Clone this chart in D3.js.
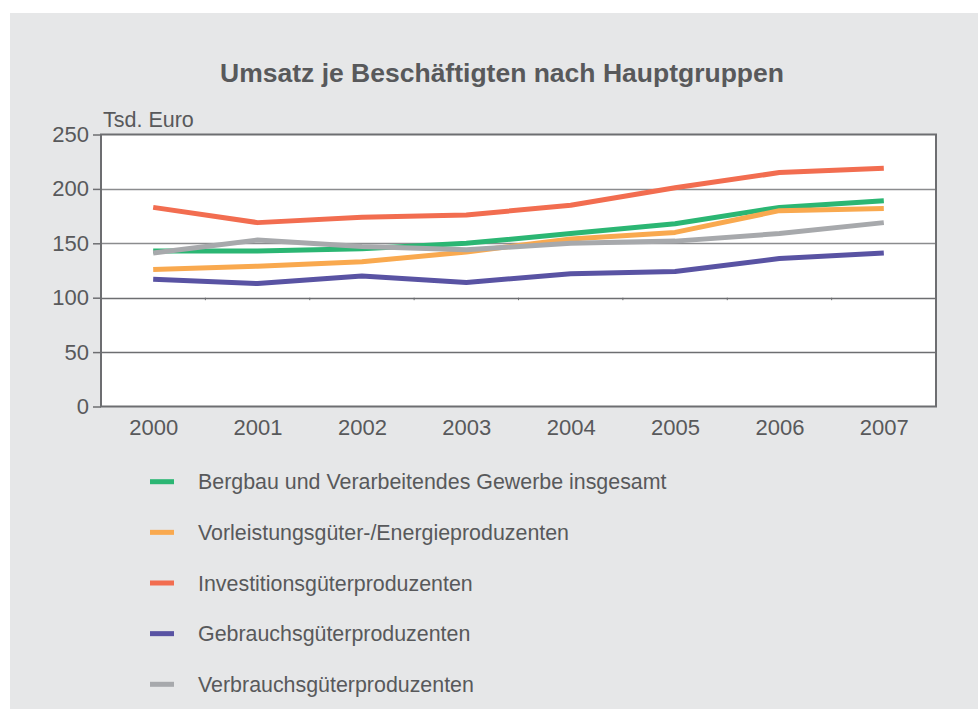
<!DOCTYPE html>
<html>
<head>
<meta charset="utf-8">
<script src="https://cdn.jsdelivr.net/npm/d3@7"></script>
<style>
body { margin: 0; background: #fff; }
text { font-family: "Liberation Sans", Arial, sans-serif; fill: #58595b; }
</style>
</head>
<body>
<svg width="978" height="709"></svg>
<script>
var years = ["2000", "2001", "2002", "2003", "2004", "2005", "2006", "2007"];
var yTicks = [0, 50, 100, 150, 200, 250];
var seriesNames = ["Bergbau und Verarbeitendes Gewerbe insgesamt", "Vorleistungsgüter-/Energieproduzenten", "Investitionsgüterproduzenten", "Gebrauchsgüterproduzenten", "Verbrauchsgüterproduzenten"];
var colors = ["#2bb673", "#f9a94f", "#f26d50", "#5953a3", "#a7a9ac"];
var insgesamt = [143, 143, 145, 150, 159, 168, 183, 189];
var vorleistung = [126, 129, 133, 142, 154, 160, 180, 182];
var investition = [183, 169, 174, 176, 185, 201, 215, 219];
var gebrauch = [117, 113, 120, 114, 122, 124, 136, 141];
var verbrauch = [141, 153, 147, 144, 150, 152, 159, 169];
var allSeries = [insgesamt, vorleistung, investition, gebrauch, verbrauch];

var svg = d3.select("svg");
var plotLeft = 101, plotRight = 936, plotTop = 134.5, plotBottom = 406.5;
var fontFam = "Liberation Sans, Arial, sans-serif";

svg.append("rect").attr("x", 10).attr("y", 13).attr("width", 968).attr("height", 696).style("fill", "#e6e7e8");

svg.append("text")
    .attr("x", 502).attr("y", 82)
    .style("text-anchor", "middle")
    .style("font-size", "26.5px")
    .style("font-weight", "bold")
    .text("Umsatz je Beschäftigten nach Hauptgruppen");

var xScale = d3.scalePoint().domain(years).range([plotLeft, plotRight]).padding(0.5);
var yScale = d3.scaleLinear().domain([0, 250]).range([plotBottom, plotTop]);

svg.append("rect").attr("x", plotLeft).attr("y", plotTop).attr("width", plotRight - plotLeft).attr("height", plotBottom - plotTop).style("fill", "#fff");

// gridlines
svg.append("g").selectAll("line").data(yTicks.slice(1, 5)).enter().append("line")
    .attr("x1", plotLeft).attr("x2", plotRight)
    .attr("y1", function(d) { return Math.round(yScale(d)) + 0.5; })
    .attr("y2", function(d) { return Math.round(yScale(d)) + 0.5; })
    .style("stroke", function(d) { return d >= 150 ? "#8b8c8e" : "#6d6e71"; })
    .style("stroke-width", 1.5);

// small category ticks sitting on the 100 line
var step = xScale.step();
svg.append("g").selectAll("line").data(years.slice(1)).enter().append("line")
    .attr("x1", function(d) { return xScale(d) - step / 2; })
    .attr("x2", function(d) { return xScale(d) - step / 2; })
    .attr("y1", yScale(100)).attr("y2", yScale(100) + 2.5)
    .style("stroke", "#6d6e71").style("stroke-width", 1);

var yAxis = svg.append("g").attr("transform", "translate(" + plotLeft + ",0)")
    .call(d3.axisLeft(yScale).tickValues(yTicks).tickSize(8).tickPadding(4));
yAxis.select(".domain").remove();
yAxis.selectAll("line").style("stroke", "#6d6e71").style("stroke-width", 1.5);
yAxis.selectAll("text").style("font-size", "22px").style("fill", "#58595b").style("font-family", fontFam);

var xAxis = svg.append("g").attr("transform", "translate(0," + plotBottom + ")")
    .call(d3.axisBottom(xScale).tickSize(0).tickPadding(13));
xAxis.select(".domain").remove();
xAxis.selectAll("text").style("font-size", "22px").style("fill", "#58595b").style("font-family", fontFam);

// plot frame
svg.append("rect").attr("x", plotLeft).attr("y", plotTop).attr("width", plotRight - plotLeft).attr("height", plotBottom - plotTop)
    .style("fill", "none").style("stroke", "#6d6e71").style("stroke-width", 2);

svg.append("text").attr("x", 103).attr("y", 127).style("font-size", "21.5px").text("Tsd. Euro");

var line = d3.line()
    .x(function(d, i) { return xScale(years[i]); })
    .y(function(d) { return yScale(d); });

svg.append("g").selectAll("path").data(allSeries).enter().append("path")
    .attr("d", line)
    .style("fill", "none")
    .style("stroke", function(d, i) { return colors[i]; })
    .style("stroke-width", 5)
    .style("stroke-linejoin", "round");

var legend = svg.append("g").selectAll("g").data(seriesNames).enter().append("g")
    .attr("transform", function(d, i) { return "translate(150," + (481.7 + i * 50.65) + ")"; });
legend.append("rect").attr("x", 0).attr("y", -2.5).attr("width", 24).attr("height", 5)
    .style("fill", function(d, i) { return colors[i]; });
legend.append("text").attr("x", 48).attr("y", 0).attr("dy", "0.35em")
    .style("font-size", "21.4px")
    .text(function(d) { return d; });
</script>
</body>
</html>
